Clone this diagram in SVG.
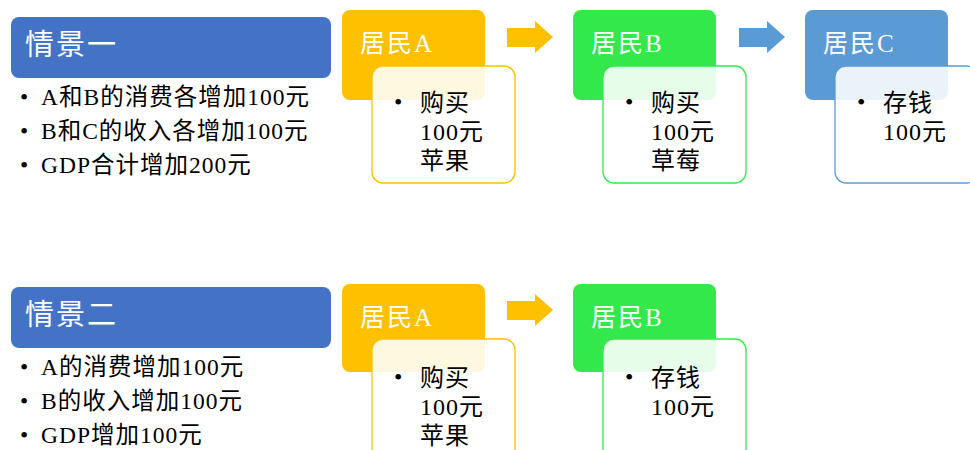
<svg xmlns="http://www.w3.org/2000/svg" width="970" height="450" viewBox="0 0 970 450">
<style>
.hdr{fill:#4472C4}
.ht{font-family:"Liberation Serif","Noto Sans CJK SC",serif;font-size:29px;fill:#fff;letter-spacing:2px}
.bl{font-family:"Liberation Serif","Noto Sans CJK SC",serif;font-size:23.5px;fill:#000;letter-spacing:1px}
.nt{font-family:"Liberation Serif","Noto Sans CJK SC",serif;font-size:25px;fill:#fff;letter-spacing:2px}
.it{font-family:"Liberation Serif","Noto Sans CJK SC",serif;font-size:24px;fill:#000;letter-spacing:1px}
.inner{fill:#fff;fill-opacity:0.88;stroke-width:1.3}
.o{fill:#FFC000}.g{fill:#33E84B}.b{fill:#5B9BD5}
</style>
<g id="scene1">
<rect class="hdr" x="11" y="17" width="320" height="61" rx="8"/>
<text class="ht" x="25" y="55">情景一</text>
<text class="bl" x="20" y="105">•</text><text class="bl" x="41" y="105">A和B的消费各增加100元</text>
<text class="bl" x="20" y="139">•</text><text class="bl" x="41" y="139">B和C的收入各增加100元</text>
<text class="bl" x="20" y="173">•</text><text class="bl" x="41" y="173">GDP合计增加200元</text>
</g>
<g id="s1A">
<rect class="o" x="342" y="10" width="143" height="90" rx="8"/>
<text class="nt" x="360" y="52">居民A</text>
<rect class="inner" x="372" y="66" width="143" height="117" rx="11" stroke="#FFC000"/>
<text class="it" x="394" y="110">•</text>
<text class="it" x="420" y="111">购买</text><text class="it" x="420" y="140">100元</text><text class="it" x="420" y="169">苹果</text>
</g>
<g id="s1B">
<rect class="g" x="573" y="10" width="143" height="90" rx="8"/>
<text class="nt" x="591" y="52">居民B</text>
<rect class="inner" x="603" y="66" width="143" height="117" rx="11" stroke="#33E84B"/>
<text class="it" x="625" y="110">•</text>
<text class="it" x="651" y="111">购买</text><text class="it" x="651" y="140">100元</text><text class="it" x="651" y="169">草莓</text>
</g>
<g id="s1C">
<rect class="b" x="805" y="10" width="143" height="90" rx="8"/>
<text class="nt" x="823" y="52">居民C</text>
<rect class="inner" x="835" y="66" width="143" height="117" rx="11" stroke="#5B9BD5"/>
<text class="it" x="857" y="110">•</text>
<text class="it" x="883" y="111">存钱</text><text class="it" x="883" y="140">100元</text>
</g>
<g id="scene2">
<rect class="hdr" x="11" y="287" width="320" height="61" rx="8"/>
<text class="ht" x="25" y="325">情景二</text>
<text class="bl" x="20" y="375">•</text><text class="bl" x="41" y="375">A的消费增加100元</text>
<text class="bl" x="20" y="409">•</text><text class="bl" x="41" y="409">B的收入增加100元</text>
<text class="bl" x="20" y="443">•</text><text class="bl" x="41" y="443">GDP增加100元</text>
</g>
<g id="s2A">
<rect class="o" x="342" y="284" width="143" height="88" rx="8"/>
<text class="nt" x="360" y="326">居民A</text>
<rect class="inner" x="372" y="339" width="143" height="130" rx="11" stroke="#FFC000"/>
<text class="it" x="394" y="385">•</text>
<text class="it" x="420" y="386">购买</text><text class="it" x="420" y="415">100元</text><text class="it" x="420" y="444">苹果</text>
</g>
<g id="s2B">
<rect class="g" x="573" y="284" width="143" height="88" rx="8"/>
<text class="nt" x="591" y="326">居民B</text>
<rect class="inner" x="603" y="339" width="143" height="130" rx="11" stroke="#33E84B"/>
<text class="it" x="625" y="385">•</text>
<text class="it" x="651" y="386">存钱</text><text class="it" x="651" y="415">100元</text>
</g>
<g id="connectors">
<polygon class="o" points="507,28 535,28 535,21 553,37 535,53 535,47 507,47"/>
<polygon class="b" points="739,28 767,28 767,21 785,37 767,53 767,47 739,47"/>
<polygon class="o" points="507,301 535,301 535,294 553,310 535,326 535,320 507,320"/>
</g>
</svg>
